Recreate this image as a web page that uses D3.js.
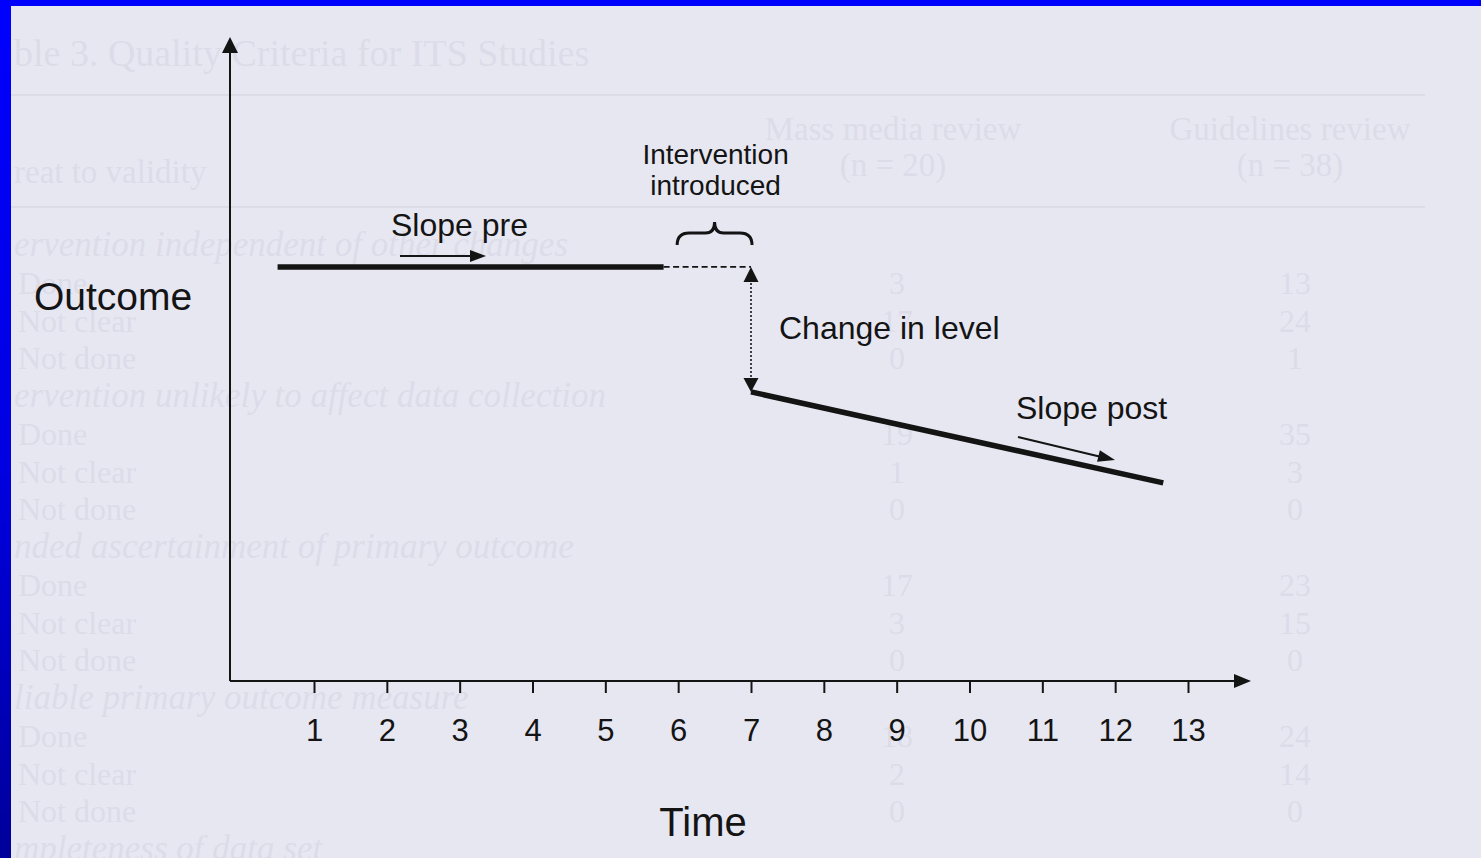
<!DOCTYPE html>
<html>
<head>
<meta charset="utf-8">
<script src="https://cdn.jsdelivr.net/npm/d3@7/dist/d3.min.js"></script>
<style>
html,body{margin:0;padding:0;background:#0000ff;overflow:hidden;}
svg{display:block;}
</style>
</head>
<body>
<svg id="chart" width="1481" height="858"></svg>
<script>
// ---- data ----
const timeTicks = [1,2,3,4,5,6,7,8,9,10,11,12,13];
const preTimes = [0.5, 5.8];
const preValues = [64.6, 64.6];
const counterTimes = [5.8, 7];
const counterValues = [64.6, 64.6];
const postTimes = [7, 12.66];
const postValues = [45.1, 30.9];
const interventionTimes = [6, 7];
const axisTitleX = "Time";
const axisTitleY = "Outcome";
const labels = {pre:"Slope pre", post:"Slope post", level:"Change in level", interv:["Intervention","introduced"]};

// faint background table (scan bleed-through)
const ghostTitle = "ble 3. Quality Criteria for ITS Studies";
const ghostHeaders = ["Mass media review","(n = 20)","Guidelines review","(n = 38)"];
const ghostRowHead = "reat to validity";
const ghostRows = ["ervention independent of other changes","Done","Not clear","Not done",
  "ervention unlikely to affect data collection","Done","Not clear","Not done",
  "nded ascertainment of primary outcome","Done","Not clear","Not done",
  "liable primary outcome measure","Done","Not clear","Not done","mpleteness of data set"];
const ghostMass = ["","3","17","0","","19","1","0","","17","3","0","","18","2","0",""];
const ghostGuide = ["","13","24","1","","35","3","0","","23","15","0","","24","14","0",""];

const svg = d3.select("#chart");
const W = 1481, H = 858;
const FONT = "'Liberation Sans', Arial, sans-serif";
const SERIF = "'Liberation Serif', 'Times New Roman', serif";

// background with blue border
const defs = svg.append("defs");
const lg = defs.append("linearGradient").attr("id","leftBorder").attr("x1",0).attr("y1",0).attr("x2",0).attr("y2",1);
lg.append("stop").attr("offset","0%").attr("stop-color","#0000ff");
lg.append("stop").attr("offset","55%").attr("stop-color","#0000e0");
lg.append("stop").attr("offset","100%").attr("stop-color","#00009a");
svg.append("rect").attr("width",W).attr("height",H).attr("fill","#0000ff");
svg.append("rect").attr("x",0).attr("y",0).attr("width",11).attr("height",H).attr("fill","url(#leftBorder)");
svg.append("rect").attr("x",11).attr("y",6).attr("width",W-11).attr("height",H-6).attr("fill","#e7e7f2");

// ghost table
const gc = "#dcdce9";
const ghost = svg.append("g").attr("fill",gc).attr("font-family",SERIF);
ghost.append("text").attr("x",14).attr("y",66).attr("font-size",38).text(ghostTitle);
ghost.append("line").attr("x1",11).attr("x2",1425).attr("y1",95).attr("y2",95).attr("stroke",gc).attr("stroke-width",2);
ghost.append("line").attr("x1",11).attr("x2",1425).attr("y1",207).attr("y2",207).attr("stroke",gc).attr("stroke-width",2);
ghost.append("text").attr("x",14).attr("y",183).attr("font-size",33).text(ghostRowHead);
ghost.append("text").attr("x",893).attr("y",140).attr("font-size",33).attr("text-anchor","middle").text(ghostHeaders[0]);
ghost.append("text").attr("x",893).attr("y",176).attr("font-size",33).attr("text-anchor","middle").text(ghostHeaders[1]);
ghost.append("text").attr("x",1290).attr("y",140).attr("font-size",33).attr("text-anchor","middle").text(ghostHeaders[2]);
ghost.append("text").attr("x",1290).attr("y",176).attr("font-size",33).attr("text-anchor","middle").text(ghostHeaders[3]);
const rowY = d3.scaleLinear().domain([0, ghostRows.length-1]).range([256, 860]);
ghostRows.forEach((r,i)=>{
  const italic = ghostMass[i]==="";
  ghost.append("text").attr("x", italic?14:18).attr("y",rowY(i)).attr("font-size",italic?35:32)
    .attr("font-style", italic?"italic":"normal").text(r);
  if(ghostMass[i]) ghost.append("text").attr("x",897).attr("y",rowY(i)).attr("font-size",32).attr("text-anchor","middle").text(ghostMass[i]);
  if(ghostGuide[i]) ghost.append("text").attr("x",1295).attr("y",rowY(i)).attr("font-size",32).attr("text-anchor","middle").text(ghostGuide[i]);
});

// scales
const x = d3.scaleLinear().domain([1,13]).range([314,1188]);
const y = d3.scaleLinear().domain([0,100]).range([681,40]);
const x0 = x.invert(230), xEnd = x.invert(1251);
const yTop = y.invert(37);

const ink = "#141414";

// axes lines with arrows
svg.append("line").attr("x1",x(x0)).attr("x2",x(x0)).attr("y1",y(0)).attr("y2",y(yTop)+14)
  .attr("stroke",ink).attr("stroke-width",2);
svg.append("path").attr("d",`M${x(x0)},${y(yTop)} L${x(x0)-8},${y(yTop)+16} L${x(x0)+8},${y(yTop)+16} Z`).attr("fill",ink);
svg.append("line").attr("x1",x(x0)).attr("x2",x(xEnd)-14).attr("y1",y(0)).attr("y2",y(0))
  .attr("stroke",ink).attr("stroke-width",2);
svg.append("path").attr("d",`M${x(xEnd)},${y(0)} L${x(xEnd)-17},${y(0)-7} L${x(xEnd)-17},${y(0)+7} Z`).attr("fill",ink);

// x axis ticks via d3 axis
const xAxis = d3.axisBottom(x).tickValues(timeTicks).tickSize(12).tickPadding(0).tickFormat(d3.format("d"));
const gx = svg.append("g").attr("transform",`translate(0,${y(0)})`).call(xAxis);
gx.select(".domain").remove();
gx.selectAll(".tick line").attr("stroke",ink).attr("stroke-width",2);
gx.selectAll(".tick text").attr("fill",ink).attr("font-family",FONT).attr("font-size",31)
  .attr("dy",null).attr("y",60);

// axis titles
svg.append("text").attr("x",703).attr("y",836).attr("text-anchor","middle").attr("font-family",FONT)
  .attr("font-size",40).attr("fill",ink).text(axisTitleX);
svg.append("text").attr("x",34).attr("y",310).attr("font-family",FONT)
  .attr("font-size",39).attr("fill",ink).text(axisTitleY);

const line = d3.line().x(d=>x(d[0])).y(d=>y(d[1]));

// pre segment
svg.append("path").attr("d",line(d3.zip(preTimes,preValues))).attr("stroke",ink).attr("stroke-width",5.5).attr("fill","none");
// counterfactual dashed
svg.append("path").attr("d",line(d3.zip(counterTimes,counterValues))).attr("stroke",ink).attr("stroke-width",1.8)
  .attr("stroke-dasharray","6,3.5").attr("fill","none");
// post segment
svg.append("path").attr("d",line(d3.zip(postTimes,postValues))).attr("stroke",ink).attr("stroke-width",5.5).attr("fill","none");

// change in level dotted double arrow
const lx = x(interventionTimes[1]);
const yA = y(counterValues[1]), yB = y(postValues[0]);
svg.append("line").attr("x1",lx).attr("x2",lx).attr("y1",yA+12).attr("y2",yB-12)
  .attr("stroke",ink).attr("stroke-width",1.6).attr("stroke-dasharray","2,2");
svg.append("path").attr("d",`M${lx},${yA} L${lx-7.5},${yA+15} L${lx+7.5},${yA+15} Z`).attr("fill",ink);
svg.append("path").attr("d",`M${lx},${yB} L${lx-7.5},${yB-14} L${lx+7.5},${yB-14} Z`).attr("fill",ink);

// brace
const bx1 = x(interventionTimes[0])-1, bx2 = x(interventionTimes[1])+1, bm = (bx1+bx2)/2;
svg.append("path").attr("d",
  `M${bx1},${245} Q${bx1},${233} ${bx1+12},${233} L${bm-9},${233} Q${bm},${233} ${bm},${222} Q${bm},${233} ${bm+9},${233} L${bx2-12},${233} Q${bx2},${233} ${bx2},${245}`)
  .attr("stroke",ink).attr("stroke-width",3).attr("fill","none");
svg.append("text").attr("x",bm+1).attr("y",164).attr("text-anchor","middle").attr("font-family",FONT)
  .attr("font-size",28).attr("fill",ink).text(labels.interv[0]);
svg.append("text").attr("x",bm+1).attr("y",195).attr("text-anchor","middle").attr("font-family",FONT)
  .attr("font-size",28).attr("fill",ink).text(labels.interv[1]);

// slope labels and arrows
svg.append("text").attr("x",391).attr("y",236).attr("font-family",FONT).attr("font-size",32).attr("fill",ink).text(labels.pre);
svg.append("line").attr("x1",400).attr("x2",472).attr("y1",256).attr("y2",256).attr("stroke",ink).attr("stroke-width",2);
svg.append("path").attr("d","M486,256 L470,250 L470,262 Z").attr("fill",ink);

svg.append("text").attr("x",779).attr("y",339).attr("font-family",FONT).attr("font-size",32).attr("fill",ink).text(labels.level);

svg.append("text").attr("x",1016).attr("y",419).attr("font-family",FONT).attr("font-size",32).attr("fill",ink).text(labels.post);
const ang = Math.atan2(460-437, 1114-1018);
svg.append("line").attr("x1",1018).attr("y1",437).attr("x2",1114-14*Math.cos(ang)).attr("y2",460-14*Math.sin(ang))
  .attr("stroke",ink).attr("stroke-width",2);
svg.append("path").attr("d","M0,0 L-17,-6 L-17,6 Z").attr("fill",ink)
  .attr("transform",`translate(1115,460) rotate(${ang*180/Math.PI})`);
</script>
</body>
</html>
